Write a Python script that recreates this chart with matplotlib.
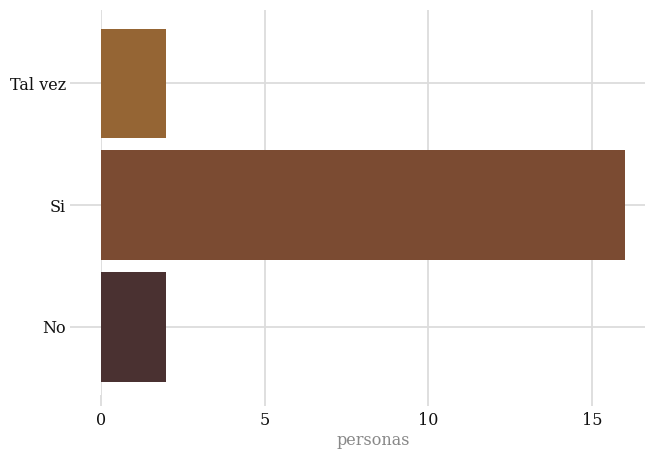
import matplotlib.pyplot as plt

# data
categories = ['No', 'Si', 'Tal vez']
counts = [2, 16, 2]
colors = ['#4A3131', '#7B4B32', '#956534']

fig = plt.figure(figsize=(6.46, 4.49), dpi=100)
ax = fig.add_axes([0.1563, 0.120, 0.842, 0.857])

ax.barh(categories, counts, height=0.9, color=colors, zorder=2)

ax.set_xlim(0, 16.62)
ax.set_ylim(-0.56, 2.6)
ax.set_xticks([0, 5, 10, 15])

grid_c = '#DCDCDC'
ax.grid(True, color=grid_c, linewidth=1.3, zorder=0)
ax.set_axisbelow(True)
for s in ax.spines.values():
    s.set_visible(False)

ax.tick_params(axis='y', length=22, width=1.3, color=grid_c, pad=3,
               labelsize=11.5)
ax.tick_params(axis='x', length=8, width=1.3, color=grid_c, pad=4,
               labelsize=11.5)
for lab in ax.get_xticklabels() + ax.get_yticklabels():
    lab.set_family('DejaVu Serif')
    lab.set_color('#111111')

ax.set_xlabel('personas', family='DejaVu Serif', fontsize=11.5,
              color='#888888', labelpad=2)

fig.savefig('out.png', dpi=100)
